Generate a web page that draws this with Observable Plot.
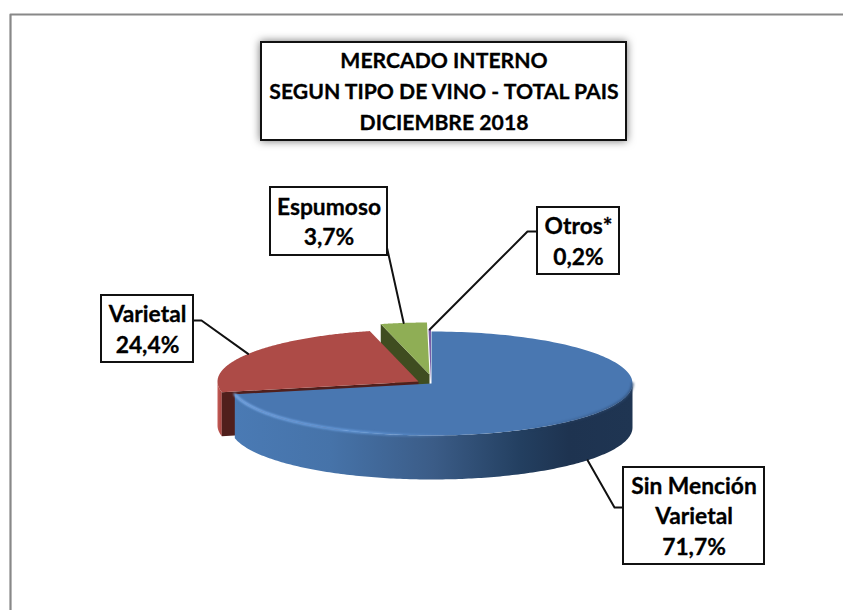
<!DOCTYPE html>
<html>
<head>
<meta charset="utf-8">
<script src="https://cdn.jsdelivr.net/npm/d3@7"></script>
<script src="https://cdn.jsdelivr.net/npm/@observablehq/plot@0.6"></script>
<style>
html,body{margin:0;padding:0;background:#fff;overflow:hidden}
svg{display:block}
</style>
</head>
<body>
<div id="chart"></div>
<script>
// DATA
const titleLines = ["MERCADO INTERNO", "SEGUN TIPO DE VINO - TOTAL PAIS", "DICIEMBRE 2018"];
const categories = ["Sin Mención\nVarietal", "Varietal", "Espumoso", "Otros*"];
const shares = [71.7, 24.4, 3.7, 0.2];

// LAYOUT
const W = 843, H = 610;
const rx = 201, ry = 52, depth = 44;
const centre = {x: 431, y: 383};
const explode = [[0, 0], [-13, -2], [-2, -9], [-0.5, -2]];
const boxes = [[623, 764, 467, 564], [101, 193, 295, 362], [270, 387, 187, 255], [537, 619, 207, 274]];
const elbows = [[614, 507, 623], [201, 320, 193], [null, null, 0], [527, 231, 537]];
const titleBox = [261, 626, 42, 140];
const colours = {
  blueTop: "#4977b1", redTop: "#ad4b47", redWall: "#501f1c",
  greenTop: "#8fae55", greenWall: "#3f4d20", purple: "#7a5ca6", frame: "#888888"
};

const slices = d3.pie().sort(null).value(d => d)(shares);
const C = i => ({x: centre.x + explode[i][0], y: centre.y + explode[i][1]});
const P = (i, a, dy = 0) => ({x: C(i).x + rx * Math.sin(a), y: C(i).y - ry * Math.cos(a) + dy});
const sweep = (a0, a1, n = 180) => d3.range(n + 1).map(k => a0 + (a1 - a0) * k / n);
const wedge = i => [C(i), ...sweep(slices[i].startAngle, slices[i].endAngle).map(a => P(i, a))];
const rimWall = (i, a0, a1) => [
  ...sweep(a0, a1).map(a => P(i, a)),
  ...sweep(a1, a0).map(a => P(i, a, depth))
];
const cutWall = (i, a) => [P(i, a), C(i), {x: C(i).x, y: C(i).y + depth}, P(i, a, depth)];
const shape = (pts, fill, extra = {}) => Plot.line(pts, {x: "x", y: "y", fill, stroke: "none", ...extra});
const fmt = v => v.toFixed(1).replace(".", ",") + "%";

// Leader lines start on the slice at its mid-angle
const mid = i => (slices[i].startAngle + slices[i].endAngle) / 2;
const leaders = categories.map((_, i) => {
  const b = boxes[i], e = elbows[i];
  const start = P(i, mid(i), i === 0 ? depth : 0);
  return i === 2
    ? [start, {x: b[1] - 1, y: 245}]
    : [start, {x: e[0], y: e[1]}, {x: e[2], y: e[1]}];
});

const boxRows = boxes.map((b, i) => ({x1: b[0], x2: b[1], y1: b[2], y2: b[3],
  cx: (b[0] + b[1]) / 2, cy: (b[2] + b[3]) / 2 - 1.5, text: categories[i] + "\n" + fmt(shares[i])}));

const defs = () => {
  const svgNS = "http://www.w3.org/2000/svg";
  const d = document.createElementNS(svgNS, "defs");
  const grad = (id, stops) => {
    const g = document.createElementNS(svgNS, "linearGradient");
    g.setAttribute("id", id);
    for (const [o, c, a] of stops) {
      const s = document.createElementNS(svgNS, "stop");
      s.setAttribute("offset", o); s.setAttribute("stop-color", c);
      if (a !== undefined) s.setAttribute("stop-opacity", a);
      g.appendChild(s);
    }
    d.appendChild(g);
  };
  grad("blueSide", [[0, "#4a7ab4"], [0.24, "#4673a9"], [0.5, "#3b5c87"], [0.72, "#233f60"], [0.84, "#1e3350"], [1, "#1f3552"]]);
  grad("blueEdge", [[0, "#7fb0ee", 1], [0.3, "#6a9fe0", 0.9], [0.55, "#6a9fe0", 0], [0.72, "#2c4a72", 0], [1, "#2c4a72", 0.8]]);
  grad("redSide", [[0, "#c45b56"], [1, "#a64440"]]);
  return d;
};

const frame = [{x: W, y: 14}, {x: 10, y: 14}, {x: 10, y: H}];
const titleRow = [{x1: titleBox[0], x2: titleBox[1], y1: titleBox[2], y2: titleBox[3]}];
const titleCx = (titleBox[0] + titleBox[1]) / 2, titleCy = (titleBox[2] + titleBox[3]) / 2 - 2.5;
const blueEnd = slices[0].endAngle;
const textWeight = {fontWeight: 700, fontFamily: "Lato", fill: "#000", stroke: "#000", strokeWidth: 0.3};

const plot = Plot.plot({
  width: W, height: H, margin: 0,
  x: {domain: [0, W], range: [0, W], axis: null},
  y: {domain: [0, H], range: [0, H], axis: null},
  style: {background: "#fff"},
  marks: [
    defs,
    Plot.line(frame, {x: "x", y: "y", stroke: colours.frame, strokeWidth: 2.2}),

    // Espumoso
    shape(cutWall(2, slices[2].startAngle), colours.greenWall),
    shape(wedge(2), colours.greenTop),
    // Otros
    shape(wedge(3), colours.purple),
    // Varietal
    shape(rimWall(1, slices[1].startAngle, 1.5 * Math.PI), "url(#redSide)"),
    shape(cutWall(1, slices[1].startAngle), colours.redWall),
    shape(wedge(1), colours.redTop),
    // Sin Mención Varietal
    shape(rimWall(0, Math.PI / 2, blueEnd), "url(#blueSide)"),
    shape(wedge(0), colours.blueTop),
    Plot.line(sweep(blueEnd, Math.PI / 2).map(a => P(0, a)), {x: "x", y: "y", stroke: "url(#blueEdge)", strokeWidth: 2.5,
      imageFilter: "blur(0.8px)"}),

    // leaders
    ...leaders.map(l => Plot.line(l, {x: "x", y: "y", stroke: "#111", strokeWidth: 2})),

    // title box
    Plot.rect(titleRow, {x1: "x1", x2: "x2", y1: "y1", y2: "y2", fill: "#fff", stroke: "#111", strokeWidth: 2,
      imageFilter: "drop-shadow(0 0 4px rgba(0,0,0,0.55))"}),
    Plot.text([titleLines.join("\n")], {x: titleCx, y: titleCy, text: d => d, fontSize: 21.2, lineHeight: 1.47, ...textWeight}),

    // label boxes
    Plot.rect(boxRows, {x1: "x1", x2: "x2", y1: "y1", y2: "y2", fill: "#fff", stroke: "#111", strokeWidth: 2}),
    Plot.text(boxRows, {x: "cx", y: "cy", text: "text", fontSize: 22.8, lineHeight: 1.34, ...textWeight})
  ]
});
document.getElementById("chart").appendChild(plot);
</script>
</body>
</html>
